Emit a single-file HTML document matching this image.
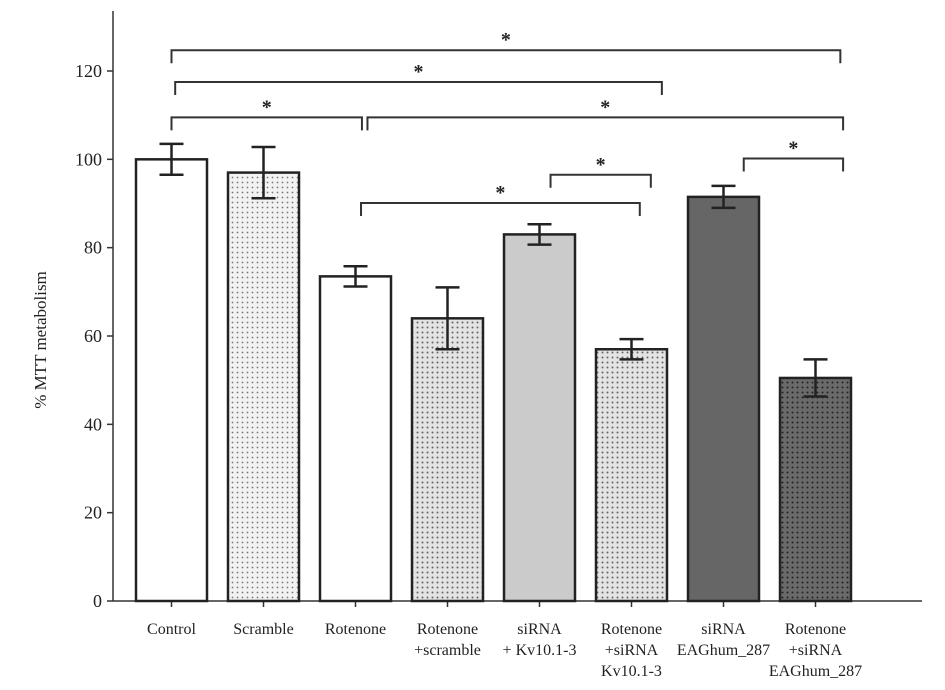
<!DOCTYPE html>
<html><head><meta charset="utf-8"><style>
body{margin:0;background:#fff;}
svg{display:block;font-family:"Liberation Serif",serif;}
</style></head><body>
<svg id="chart" width="945" height="690" viewBox="0 0 945 690">
<defs>
<pattern id="dotsLight" width="5" height="5" patternUnits="userSpaceOnUse"><rect width="5" height="5" fill="#f2f2f2"/><circle cx="2.5" cy="2.5" r="0.9" fill="#777"/></pattern>
<pattern id="dotsMid" width="5" height="5" patternUnits="userSpaceOnUse"><rect width="5" height="5" fill="#e4e4e4"/><circle cx="2.5" cy="2.5" r="1" fill="#666"/></pattern>
<pattern id="dotsDark" width="5" height="5" patternUnits="userSpaceOnUse"><rect width="5" height="5" fill="#6a6a6a"/><circle cx="2.5" cy="2.5" r="1" fill="#222"/></pattern>
</defs>
<g id="axes"></g>
<g id="bars"></g>
<g id="sig"></g>
</svg>
<script>
const categories = [["Control"],["Scramble"],["Rotenone"],["Rotenone","+scramble"],["siRNA","+ Kv10.1-3"],["Rotenone","+siRNA","Kv10.1-3"],["siRNA","EAGhum_287"],["Rotenone","+siRNA","EAGhum_287"]];
const values = [100, 97, 73.5, 64, 83, 57, 91.5, 50.5];
const errors = [3.5, 5.8, 2.3, 7, 2.3, 2.3, 2.5, 4.2];
const fills = ["#fff","url(#dotsLight)","#fff","url(#dotsMid)","#cbcbcb","url(#dotsMid)","#666","url(#dotsDark)"];
const yTicks = [0,20,40,60,80,100,120];
// significance brackets, ends in category units (0 = first bar centre)
const sigFrom = [0, 0.04, 0, 2.13, 4.12, 2.06, 6.22];
const sigTo   = [7.27, 5.33, 2.07, 7.30, 5.21, 5.09, 7.30];
const sigLevel= [124.7, 117.5, 109.5, 109.5, 96.5, 90.1, 100.2];

const NS="http://www.w3.org/2000/svg";
const x0=113, yBase=601, yTop=71, vMax=120;
const yS=v=>yBase-(v/vMax)*(yBase-yTop);
const step=92, bw=71, firstLeft=136;
const xC=i=>firstLeft+bw/2+i*step;
function mk(tag,attrs,parent){const e=document.createElementNS(NS,tag);for(const k in attrs)e.setAttribute(k,attrs[k]);parent.appendChild(e);return e;}
const axes=document.getElementById('axes'),bars=document.getElementById('bars'),sig=document.getElementById('sig');

let a=mk('line',{x1:x0,y1:yS(vMax)-60,x2:x0,y2:yBase,stroke:'#333','stroke-width':1.5},axes);


a=mk('line',{x1:x0,y1:yBase,x2:922,y2:yBase,stroke:'#333','stroke-width':1.5},axes);


yTicks.forEach(t=>{
  const y=yS(t);
  const l=mk('line',{x1:x0-6,y1:y,x2:x0,y2:y,stroke:'#333','stroke-width':1.5},axes);
  
  
  const tx=mk('text',{x:x0-11,y:y+6,'text-anchor':'end','font-size':18,fill:'#222'},axes);
  tx.textContent=t;
  
  
});
const yt=mk('text',{x:0,y:0,transform:'translate(46,340) rotate(-90)','text-anchor':'middle','font-size':17,fill:'#222'},axes);
yt.textContent='% MTT metabolism';



values.forEach((v,i)=>{
  const cx=xC(i), y=yS(v);
  const r=mk('rect',{x:cx-bw/2,y:y,width:bw,height:yBase-y,fill:fills[i],stroke:'#222','stroke-width':2.5},bars);
  
  
  const e1=yS(v+errors[i]), e2=yS(v-errors[i]);
  const g=mk('g',{stroke:'#222','stroke-width':2.5},bars);
  
  
  mk('line',{x1:cx,y1:e1,x2:cx,y2:e2},g);
  mk('line',{x1:cx-12,y1:e1,x2:cx+12,y2:e1},g);
  mk('line',{x1:cx-12,y1:e2,x2:cx+12,y2:e2},g);
  const tk=mk('line',{x1:cx,y1:yBase,x2:cx,y2:yBase+6,stroke:'#333','stroke-width':1.5},axes);
  
  
  const t=mk('text',{x:cx,y:0,'text-anchor':'middle','font-size':16,fill:'#222'},axes);
  
  
  categories[i].forEach((s,j)=>{const ts=mk('tspan',{x:cx,y:634+j*21},t);ts.textContent=s;});
});

sigFrom.forEach((f,k)=>{
  const x1=xC(0)+f*step, x2=xC(0)+sigTo[k]*step, y=yS(sigLevel[k]);
  const p=mk('path',{d:`M${x1},${y+13}V${y}H${x2}V${y+13}`,fill:'none',stroke:'#333','stroke-width':2},sig);
  
  
  const s=mk('text',{x:(x1+x2)/2,y:y-4,'text-anchor':'middle','font-size':20,'font-weight':'bold',fill:'#222'},sig);
  s.textContent='*';
  
  
});
</script>
</body></html>
